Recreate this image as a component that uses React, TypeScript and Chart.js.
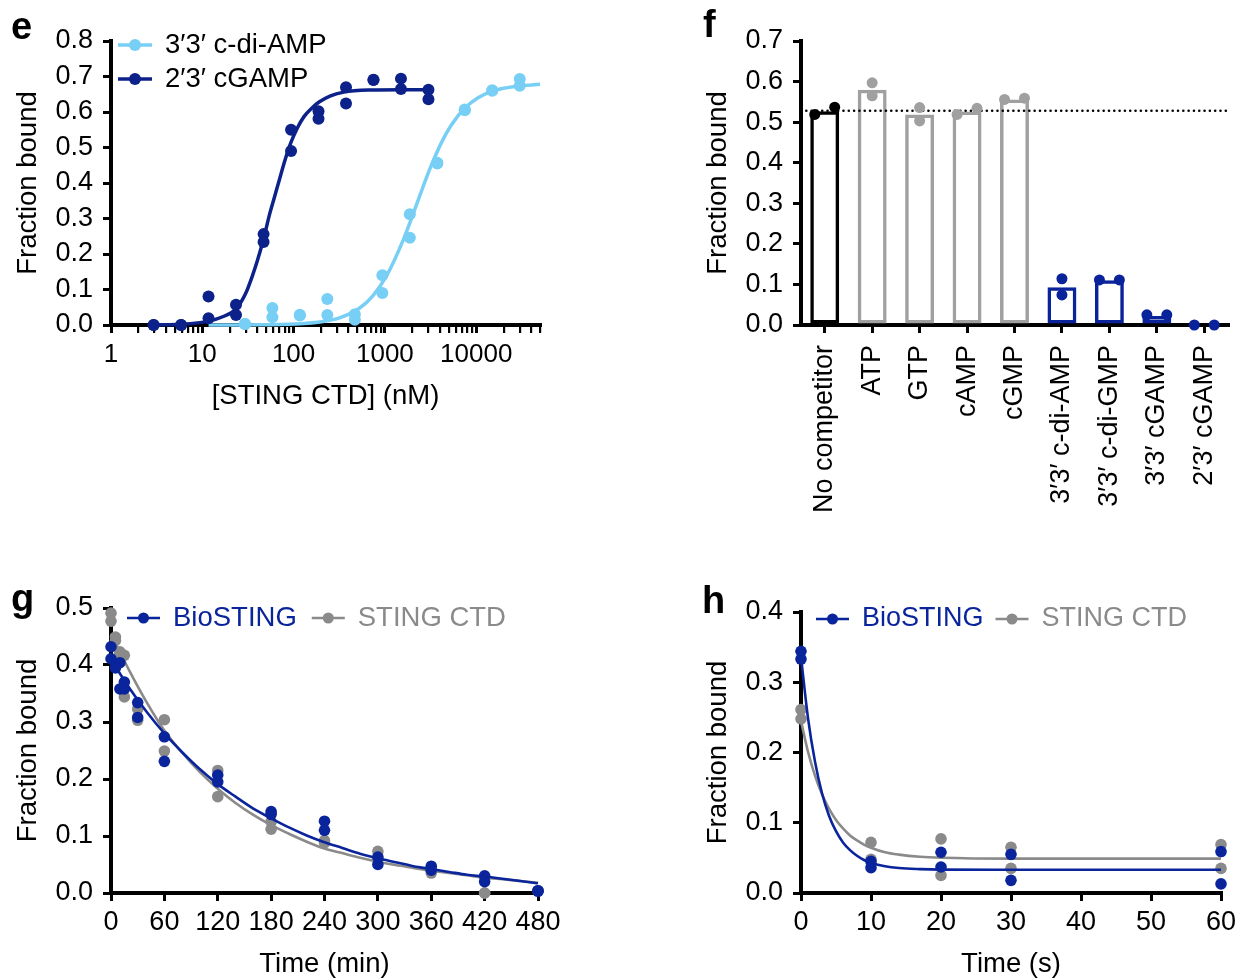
import React, { useEffect, useRef } from 'react';
import { Chart, registerables } from 'chart.js';

Chart.register(...registerables);

const FONT = '"Liberation Sans", Arial, Helvetica, sans-serif';
Chart.defaults.font.family = FONT;
Chart.defaults.color = '#000';

// ---------------- Panel e : binding curves ----------------
const eCgampConc = [2.93, 5.86, 11.7, 23.4, 46.9, 93.8, 187.5, 375, 750, 1500, 3000];
const eCgampRep1 = [0.0, 0.0, 0.08, 0.057, 0.256, 0.55, 0.602, 0.67, 0.691, 0.694, 0.663];
const eCgampRep2 = [0.0, 0.0, 0.019, 0.028, 0.234, 0.49, 0.581, 0.624, 0.69, 0.665, 0.636];
const eCgampFitConc = [2.93, 5.86, 11.7, 17, 23.4, 30, 35, 40, 46.9, 55, 62, 70, 80, 93.8, 110, 130, 160, 190, 250, 355, 700, 1500, 3000];
const eCgampFitY = [0.0, 0.002, 0.011, 0.024, 0.045, 0.09, 0.135, 0.18, 0.243, 0.315, 0.362, 0.41, 0.462, 0.515, 0.555, 0.587, 0.612, 0.628, 0.645, 0.656, 0.662, 0.663, 0.663];

const eCdaConc = [29.3, 58.6, 117, 234, 469, 938, 1875, 3750, 7500, 15000, 30000];
const eCdaRep1 = [0.003, 0.048, 0.029, 0.073, 0.03, 0.14, 0.312, 0.457, 0.607, 0.661, 0.693];
const eCdaRep2 = [0.003, 0.022, 0.027, 0.028, 0.015, 0.09, 0.246, 0.455, 0.605, 0.66, 0.674];
const eCdaFitConc = [11.7, 31.8, 106, 212, 318, 530, 742, 1060, 1590, 2120, 2650, 3180, 4240, 5300, 7420, 10600, 15900, 26500, 50000];
const eCdaFitY = [0.0, 0.0003, 0.003, 0.01, 0.02, 0.048, 0.083, 0.142, 0.24, 0.325, 0.393, 0.446, 0.518, 0.562, 0.61, 0.641, 0.661, 0.672, 0.678];

const eSeriesNames = ['3′3′ c-di-AMP', '2′3′ cGAMP'];
const eTickLabels = ['1', '10', '100', '1000', '10000'];
const eXMin = 1;
const eXMax = 50000;

// ---------------- Panel f : competition ----------------
const fCategories = ['No competitor', 'ATP', 'GTP', 'cAMP', 'cGMP', '3′3′ c-di-AMP', '3′3′ c-di-GMP', '3′3′ cGAMP', '2′3′ cGAMP'];
const fGroup = [0, 1, 1, 1, 1, 2, 2, 2, 2];
const fMean = [0.527, 0.58, 0.519, 0.526, 0.556, 0.093, 0.11, 0.022, 0.0];
const fRep1 = [0.519, 0.597, 0.536, 0.519, 0.556, 0.114, 0.111, 0.025, 0.0];
const fRep2 = [0.537, 0.565, 0.503, 0.534, 0.559, 0.074, 0.111, 0.025, 0.0];
const fReference = 0.528;

// ---------------- Panel g : dissociation (min) ----------------
const gTime = [0, 5, 10, 15, 30, 60, 120, 180, 240, 300, 360, 420, 480];
const gBioRep1 = [0.432, 0.402, 0.404, 0.37, 0.334, 0.274, 0.207, 0.143, 0.126, 0.063, 0.047, 0.03, 0.004];
const gBioRep2 = [0.411, 0.395, 0.358, 0.358, 0.308, 0.231, 0.195, 0.138, 0.11, 0.05, 0.04, 0.02, 0.003];
const gCtdRep1 = [0.491, 0.449, 0.423, 0.417, 0.323, 0.304, 0.215, 0.125, 0.092, 0.073, 0.04, 0.0, 0.004];
const gCtdRep2 = [0.477, 0.443, 0.42, 0.344, 0.303, 0.249, 0.169, 0.112, 0.088, 0.06, 0.035, 0.0, 0.004];
const gFitTime = [0, 20, 40, 60, 80, 100, 120, 140, 160, 180, 200, 220, 240, 260, 280, 300, 320, 340, 360, 380, 400, 420, 440, 460, 480];
const gBioFit = [0.41, 0.361, 0.318, 0.28, 0.247, 0.217, 0.191, 0.169, 0.148, 0.131, 0.115, 0.101, 0.089, 0.079, 0.069, 0.061, 0.054, 0.047, 0.042, 0.037, 0.032, 0.029, 0.025, 0.021, 0.017];
const gCtdFit = [0.455, 0.392, 0.335, 0.285, 0.246, 0.212, 0.183, 0.158, 0.137, 0.119, 0.104, 0.09, 0.078, 0.07, 0.062, 0.055, 0.049, 0.044, 0.039, 0.035, 0.031, 0.027, 0.024, 0.021, 0.018];

// ---------------- Panel h : dissociation (s) ----------------
const hTime = [0, 10, 20, 30, 60];
const hBioRep1 = [0.344, 0.045, 0.058, 0.055, 0.059];
const hBioRep2 = [0.333, 0.036, 0.037, 0.018, 0.013];
const hCtdRep1 = [0.261, 0.072, 0.077, 0.065, 0.069];
const hCtdRep2 = [0.248, 0.048, 0.025, 0.035, 0.035];
const hFitTime = [0, 1, 2, 3, 4, 5, 6, 7, 8, 9, 10, 12, 14, 17, 20, 30, 60];
const hBioFit = [0.336, 0.249, 0.187, 0.142, 0.11, 0.088, 0.072, 0.061, 0.053, 0.047, 0.043, 0.038, 0.0355, 0.034, 0.0333, 0.033, 0.033];
const hCtdFit = [0.245, 0.201, 0.167, 0.1405, 0.12, 0.104, 0.092, 0.082, 0.075, 0.069, 0.0645, 0.058, 0.0546, 0.0516, 0.0502, 0.049, 0.049];

const gSeriesNames = ['BioSTING', 'STING CTD'];

// ---------------- styles ----------------
const E_DARK = '#0c228a';
const E_LIGHT = '#78cff6';
const BLUE = '#0a249c';
const GRAY = '#8a8a8a';
const F_COLORS = ['#000000', '#a0a0a0', '#0a229a'];
const TICK_SIZE = 27;
const TITLE_SIZE = 27.5;
const TICK_FONT = { size: TICK_SIZE };
const TITLE_FONT = { size: TITLE_SIZE };
const TITLE_HALF = (TITLE_SIZE * 1.2) / 2;

document.body.style.margin = '0';

const toXY = (xs: number[], ys: number[]) => xs.map((x, i) => ({ x, y: ys[i] }));

const pointDS = (label: string, color: string, data: any[], radius: number) => ({
  type: 'scatter',
  label,
  data,
  backgroundColor: color,
  borderColor: color,
  pointRadius: radius,
  pointHoverRadius: radius,
  pointBorderWidth: 0,
  showLine: false,
  clip: false,
});

const curveDS = (color: string, data: any[], width: number) => ({
  type: 'scatter',
  label: '',
  data,
  borderColor: color,
  backgroundColor: color,
  showLine: true,
  pointRadius: 0,
  pointHoverRadius: 0,
  borderWidth: width,
  cubicInterpolationMode: 'monotone',
  fill: false,
  clip: false,
});

const legendPlugin = {
  id: 'panelLegend',
  afterDraw(chart: any, _args: any, opts: any) {
    if (!opts || !opts.order || !opts.order.length) return;
    const { ctx, chartArea } = chart;
    ctx.save();
    ctx.font = `${opts.fontSize}px ${FONT}`;
    ctx.textBaseline = 'middle';
    ctx.textAlign = 'left';
    let x = chartArea.left + opts.offsetX;
    let y = chartArea.top + opts.offsetY;
    opts.order.forEach((di: number) => {
      const ds = chart.data.datasets[di];
      const color = ds.borderColor;
      ctx.strokeStyle = color;
      ctx.lineWidth = opts.lineWidth;
      ctx.beginPath();
      ctx.moveTo(x, y);
      ctx.lineTo(x + opts.symbolLen, y);
      ctx.stroke();
      ctx.fillStyle = color;
      ctx.beginPath();
      ctx.arc(x + opts.symbolLen / 2, y, opts.radius, 0, Math.PI * 2);
      ctx.fill();
      const tx = x + opts.symbolLen + opts.textGap;
      ctx.fillStyle = opts.colorText ? color : '#000';
      ctx.fillText(ds.label, tx, y);
      if (opts.direction === 'vertical') y += opts.rowGap;
      else x = tx + ctx.measureText(ds.label).width + opts.itemGap;
    });
    ctx.restore();
  },
};

interface Box { left: number; top: number; width: number; height: number; L: number; T: number; R: number; B: number; }

const boxE: Box = { left: 0, top: 0, width: 600, height: 420, L: 111, T: 41, R: 540, B: 325 };
const boxF: Box = { left: 690, top: 0, width: 580, height: 560, L: 801, T: 41, R: 1228, B: 325 };
const boxG: Box = { left: 0, top: 570, width: 600, height: 420, L: 111, T: 608, R: 538, B: 893 };
const boxH: Box = { left: 690, top: 570, width: 560, height: 420, L: 801, T: 612, R: 1221, B: 893 };

const layoutFor = (b: Box) => ({ padding: { left: 0, top: b.T - b.top, right: b.left + b.width - b.R, bottom: 0 } });

const axisGrid = { drawOnChartArea: false, drawTicks: true, tickLength: 8, lineWidth: 3, color: '#000' };
const axisBorder = { display: true, width: 4, color: '#000' };

const yAxis = (b: Box, max: number) => ({
  type: 'linear',
  min: 0,
  max,
  ticks: { stepSize: 0.1, padding: 10, font: TICK_FONT, color: '#000', callback: (v: any) => Number(v).toFixed(1) },
  grid: axisGrid,
  border: axisBorder,
  title: { display: true, text: 'Fraction bound', font: TITLE_FONT, color: '#000', padding: { top: 28 - TITLE_HALF, bottom: 0 } },
  afterFit: (s: any) => { s.width = b.L - b.left; },
});

const xLinear = (b: Box, max: number, step: number, title: string, titleCenter: number) => ({
  type: 'linear',
  min: 0,
  max,
  ticks: { stepSize: step, padding: 5, font: TICK_FONT, color: '#000', autoSkip: false, maxRotation: 0 },
  grid: axisGrid,
  border: axisBorder,
  title: { display: true, text: title, font: TITLE_FONT, color: '#000', padding: { top: 0, bottom: b.top + b.height - titleCenter - TITLE_HALF } },
  afterFit: (s: any) => { s.height = b.top + b.height - b.B; },
});

const baseOptions = (b: Box) => ({
  responsive: false,
  maintainAspectRatio: false,
  animation: false,
  events: [],
  layout: layoutFor(b),
  plugins: { legend: { display: false }, tooltip: { enabled: false } },
});

// ---------------- configs ----------------
const eAxisTicks: number[] = [];
for (let d = 0; d <= 4; d++) {
  for (let m = 1; m <= 9; m++) {
    const v = m * Math.pow(10, d);
    if (v >= eXMin && v <= eXMax) eAxisTicks.push(v);
  }
}

function buildE(): any {
  const b = boxE;
  return {
    type: 'scatter',
    data: {
      datasets: [
        pointDS(eSeriesNames[1], E_DARK, [...toXY(eCgampConc, eCgampRep1), ...toXY(eCgampConc, eCgampRep2)], 6),
        curveDS(E_DARK, toXY(eCgampFitConc, eCgampFitY), 3.5),
        pointDS(eSeriesNames[0], E_LIGHT, [...toXY(eCdaConc, eCdaRep1), ...toXY(eCdaConc, eCdaRep2)], 6),
        curveDS(E_LIGHT, toXY(eCdaFitConc, eCdaFitY), 3.5),
      ],
    },
    options: {
      ...baseOptions(b),
      scales: {
        x: {
          type: 'logarithmic',
          min: eXMin,
          max: eXMax,
          afterBuildTicks: (s: any) => {
            s.ticks = eAxisTicks.map((v) => ({ value: v, major: eTickLabels.includes(String(v)) }));
          },
          ticks: {
            autoSkip: false,
            maxRotation: 0,
            padding: 6,
            font: { size: 26 },
            color: '#000',
            callback: (v: any) => (eTickLabels.includes(String(v)) ? String(v) : ''),
          },
          grid: { ...axisGrid, lineWidth: (c: any) => (c.tick && c.tick.major ? 3 : 2.2) },
          border: axisBorder,
          title: { display: true, text: '[STING CTD] (nM)', font: TITLE_FONT, color: '#000', padding: { top: 0, bottom: b.top + b.height - 396 - TITLE_HALF } },
          afterFit: (s: any) => { s.height = b.top + b.height - b.B; },
        },
        y: yAxis(b, 0.8),
      },
      plugins: {
        legend: { display: false },
        tooltip: { enabled: false },
        panelLegend: { order: [2, 0], offsetX: 7, offsetY: 4, direction: 'vertical', rowGap: 34, symbolLen: 34, textGap: 13, itemGap: 0, radius: 6, lineWidth: 3.5, fontSize: 27.5, colorText: false },
      },
    },
    plugins: [legendPlugin],
  };
}

const XP_MIN = -0.5;
const XP_MAX = fCategories.length - 0.5;

function buildF(): any {
  const b = boxF;
  const pts: any[] = [];
  const ptColors: string[] = [];
  fCategories.forEach((_c, i) => {
    const spread = Math.abs(fRep1[i] - fRep2[i]) < 0.025 ? 0.21 : 0;
    pts.push({ x: i - spread, y: fRep1[i] });
    pts.push({ x: i + spread, y: fRep2[i] });
    ptColors.push(F_COLORS[fGroup[i]], F_COLORS[fGroup[i]]);
  });
  return {
    type: 'bar',
    data: {
      labels: fCategories,
      datasets: [
        {
          type: 'scatter',
          xAxisID: 'xp',
          data: pts,
          pointBackgroundColor: ptColors,
          pointBorderWidth: 0,
          pointRadius: 5.5,
          pointHoverRadius: 5.5,
          showLine: false,
          clip: false,
          order: 0,
        },
        {
          type: 'line',
          xAxisID: 'xp',
          data: [{ x: XP_MIN, y: fReference }, { x: XP_MAX, y: fReference }],
          borderColor: '#000',
          borderWidth: 2.6,
          borderDash: [0.01, 5.3],
          borderCapStyle: 'round',
          pointRadius: 0,
          pointHoverRadius: 0,
          clip: false,
          order: 1,
        },
        {
          type: 'bar',
          xAxisID: 'x',
          data: fMean,
          borderColor: fGroup.map((g) => F_COLORS[g]),
          backgroundColor: 'rgba(255,255,255,0)',
          borderWidth: 3.5,
          borderSkipped: false,
          grouped: false,
          categoryPercentage: 1,
          barPercentage: 0.61,
          order: 2,
        },
      ],
    },
    options: {
      ...baseOptions(b),
      scales: {
        x: {
          type: 'category',
          offset: true,
          ticks: { minRotation: 90, maxRotation: 90, autoSkip: false, padding: 12, font: TICK_FONT, color: '#000' },
          grid: { ...axisGrid, offset: false },
          border: axisBorder,
          afterFit: (s: any) => { s.height = b.top + b.height - b.B; },
        },
        xp: { type: 'linear', display: false, offset: false, min: XP_MIN, max: XP_MAX },
        y: yAxis(b, 0.7),
      },
    },
  };
}

function buildDecay(b: Box, time: number[], bio1: number[], bio2: number[], ctd1: number[], ctd2: number[], fitT: number[], bioFit: number[], ctdFit: number[], xmax: number, step: number, ymax: number, title: string, legendY: number, legendX: number, legendFont: number, legendGap: number): any {
  return {
    type: 'scatter',
    data: {
      datasets: [
        pointDS(gSeriesNames[0], BLUE, [...toXY(time, bio1), ...toXY(time, bio2)], 5.8),
        curveDS(BLUE, toXY(fitT, bioFit), 2.6),
        pointDS(gSeriesNames[1], GRAY, [...toXY(time, ctd1), ...toXY(time, ctd2)], 5.8),
        curveDS(GRAY, toXY(fitT, ctdFit), 2.6),
      ],
    },
    options: {
      ...baseOptions(b),
      scales: {
        x: xLinear(b, xmax, step, title, 964),
        y: yAxis(b, ymax),
      },
      plugins: {
        legend: { display: false },
        tooltip: { enabled: false },
        panelLegend: { order: [0, 2], offsetX: legendX, offsetY: legendY, direction: 'horizontal', rowGap: 0, symbolLen: 33, textGap: 13, itemGap: legendGap, radius: 5.5, lineWidth: 2.6, fontSize: legendFont, colorText: true },
      },
    },
    plugins: [legendPlugin],
  };
}

function ChartPanel({ box, build }: { box: Box; build: () => any }) {
  const ref = useRef<HTMLCanvasElement>(null);
  useEffect(() => {
    if (!ref.current) return;
    const chart = new Chart(ref.current, build());
    return () => chart.destroy();
  }, []);
  return (
    <canvas
      ref={ref}
      width={box.width}
      height={box.height}
      style={{ position: 'absolute', left: box.left, top: box.top, width: box.width, height: box.height }}
    />
  );
}

const letterStyle = (left: number, top: number): React.CSSProperties => ({
  position: 'absolute',
  left,
  top,
  fontFamily: FONT,
  fontWeight: 'bold',
  fontSize: 38,
  lineHeight: '38px',
  color: '#000',
});

export default function App() {
  return (
    <div style={{ position: 'relative', width: 1238, height: 978, overflow: 'hidden', background: '#fff' }}>
      <ChartPanel box={boxE} build={buildE} />
      <ChartPanel box={boxF} build={buildF} />
      <ChartPanel
        box={boxG}
        build={() => buildDecay(boxG, gTime, gBioRep1, gBioRep2, gCtdRep1, gCtdRep2, gFitTime, gBioFit, gCtdFit, 480, 60, 0.5, 'Time (min)', 10, 16, 27.5, 15)}
      />
      <ChartPanel
        box={boxH}
        build={() => buildDecay(boxH, hTime, hBioRep1, hBioRep2, hCtdRep1, hCtdRep2, hFitTime, hBioFit, hCtdFit, 60, 10, 0.4, 'Time (s)', 7, 15, 27, 12)}
      />
      <div style={letterStyle(11, 7)}>e</div>
      <div style={letterStyle(703, 5)}>f</div>
      <div style={letterStyle(11, 579)}>g</div>
      <div style={letterStyle(702, 581)}>h</div>
    </div>
  );
}
